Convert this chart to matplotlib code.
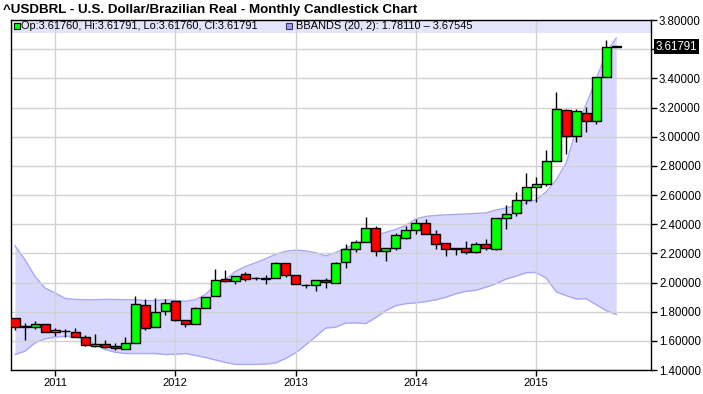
import matplotlib.pyplot as plt
import matplotlib.transforms as mtransforms
from matplotlib.patches import Rectangle
import numpy as np

plt.rcParams['font.family'] = ['Liberation Sans', 'DejaVu Sans']

# monthly candles, Sep 2010 .. Sep 2015
months = ['2010-09', '2010-10', '2010-11', '2010-12',
          '2011-01', '2011-02', '2011-03', '2011-04', '2011-05', '2011-06',
          '2011-07', '2011-08', '2011-09', '2011-10', '2011-11', '2011-12',
          '2012-01', '2012-02', '2012-03', '2012-04', '2012-05', '2012-06',
          '2012-07', '2012-08', '2012-09', '2012-10', '2012-11', '2012-12',
          '2013-01', '2013-02', '2013-03', '2013-04', '2013-05', '2013-06',
          '2013-07', '2013-08', '2013-09', '2013-10', '2013-11', '2013-12',
          '2014-01', '2014-02', '2014-03', '2014-04', '2014-05', '2014-06',
          '2014-07', '2014-08', '2014-09', '2014-10', '2014-11', '2014-12',
          '2015-01', '2015-02', '2015-03', '2015-04', '2015-05', '2015-06',
          '2015-07', '2015-08', '2015-09']

opens = [1.754, 1.698, 1.698, 1.716,
         1.662, 1.668, 1.662, 1.628, 1.567, 1.578,
         1.567, 1.546, 1.587, 1.847, 1.698, 1.803,
         1.876, 1.745, 1.716, 1.826, 1.907, 2.025,
         2.009, 2.059, 2.029, 2.027, 2.029, 2.134,
         2.053, 1.983, 1.980, 2.020, 1.998, 2.143,
         2.230, 2.277, 2.377, 2.218, 2.236, 2.305,
         2.359, 2.407, 2.332, 2.273, 2.232, 2.234,
         2.211, 2.264, 2.230, 2.441, 2.475, 2.566,
         2.654, 2.673, 2.832, 3.182, 3.008, 3.162,
         3.105, 3.410, 3.6176]
highs = [1.757, 1.722, 1.734, 1.718,
         1.689, 1.678, 1.686, 1.637, 1.644, 1.605,
         1.587, 1.628, 1.910, 1.890, 1.895, 1.888,
         1.883, 1.745, 1.833, 1.900, 2.095, 2.089,
         2.046, 2.075, 2.036, 2.049, 2.143, 2.134,
         2.053, 1.993, 2.018, 2.029, 2.143, 2.266,
         2.291, 2.450, 2.385, 2.234, 2.341, 2.389,
         2.438, 2.434, 2.360, 2.273, 2.240, 2.286,
         2.275, 2.300, 2.445, 2.532, 2.618, 2.748,
         2.723, 2.907, 3.303, 3.190, 3.190, 3.203,
         3.410, 3.665, 3.61791]
lows = [1.672, 1.605, 1.678, 1.660,
        1.632, 1.628, 1.626, 1.564, 1.560, 1.553,
        1.537, 1.546, 1.587, 1.673, 1.698, 1.775,
        1.734, 1.693, 1.716, 1.822, 1.907, 2.005,
        1.988, 2.010, 2.020, 1.993, 2.029, 2.039,
        1.991, 1.964, 1.941, 1.964, 1.998, 2.097,
        2.207, 2.277, 2.182, 2.145, 2.224, 2.300,
        2.332, 2.332, 2.232, 2.180, 2.190, 2.198,
        2.200, 2.225, 2.222, 2.368, 2.459, 2.541,
        2.550, 2.663, 2.832, 2.882, 2.964, 3.035,
        3.090, 3.410, 3.6176]
closes = [1.698, 1.699, 1.716, 1.662,
          1.675, 1.666, 1.628, 1.573, 1.580, 1.560,
          1.553, 1.587, 1.854, 1.689, 1.799, 1.861,
          1.745, 1.716, 1.826, 1.900, 2.018, 2.012,
          2.046, 2.027, 2.030, 2.028, 2.134, 2.053,
          1.991, 1.982, 2.018, 2.002, 2.134, 2.230,
          2.277, 2.377, 2.218, 2.234, 2.329, 2.359,
          2.407, 2.332, 2.264, 2.230, 2.234, 2.211,
          2.264, 2.236, 2.441, 2.470, 2.564, 2.654,
          2.673, 2.836, 3.187, 3.008, 3.173, 3.105,
          3.408, 3.618, 3.61791]

# Bollinger bands (20, 2)
bb_upper = [2.252, 2.156, 2.042, 1.962,
            1.928, 1.891, 1.884, 1.882, 1.882, 1.884,
            1.884, 1.882, 1.882, 1.876, 1.876, 1.882,
            1.878, 1.871, 1.882, 1.917, 1.985, 2.019,
            2.076, 2.110, 2.135, 2.163, 2.193, 2.214,
            2.222, 2.217, 2.204, 2.183, 2.204, 2.235,
            2.265, 2.296, 2.323, 2.344, 2.364, 2.392,
            2.436, 2.453, 2.460, 2.464, 2.467, 2.470,
            2.474, 2.477, 2.498, 2.511, 2.529, 2.549,
            2.566, 2.621, 2.703, 2.819, 3.045, 3.223,
            3.393, 3.578, 3.67545]
bb_lower = [1.506, 1.529, 1.586, 1.614,
            1.625, 1.631, 1.627, 1.609, 1.575, 1.540,
            1.522, 1.513, 1.513, 1.513, 1.513, 1.506,
            1.508, 1.513, 1.500, 1.486, 1.469, 1.452,
            1.438, 1.438, 1.438, 1.441, 1.448, 1.479,
            1.518, 1.571, 1.629, 1.688, 1.693, 1.722,
            1.723, 1.718, 1.759, 1.807, 1.841, 1.855,
            1.860, 1.869, 1.882, 1.899, 1.923, 1.939,
            1.947, 1.968, 1.992, 2.024, 2.043, 2.067,
            2.069, 2.031, 1.937, 1.910, 1.887, 1.889,
            1.848, 1.807, 1.78110]

year_labels = ['2011', '2012', '2013', '2014', '2015']
y_ticks = [1.4, 1.6, 1.8, 2.0, 2.2, 2.4, 2.6, 2.8, 3.0, 3.2, 3.4, 3.6, 3.8]

UP = '#00ff00'
DOWN = '#ff0000'

fig = plt.figure(figsize=(7.03, 3.94), dpi=100)
ax = fig.add_axes([0.01522, 0.0609, 0.9104, 0.8883])

x = np.arange(len(months))
o = np.array(opens)
h = np.array(highs)
l = np.array(lows)
c = np.array(closes)

# band
ax.fill_between(x, bb_lower, bb_upper, color='#d8d8ff', lw=0, zorder=0.2)
ax.plot(x, bb_upper, color='#a8a8f4', lw=1, zorder=0.3)
ax.plot(x, bb_lower, color='#a8a8f4', lw=1, zorder=0.3)

# candles
ax.vlines(x, l, h, color='black', lw=1, zorder=2)
colors = [UP if cc >= oo else DOWN for oo, cc in zip(o, c)]
bottoms = np.minimum(o, c)
heights = np.maximum(np.abs(c - o), 0.0008)
ax.bar(x, heights, width=0.9, bottom=bottoms, color=colors,
       edgecolor='black', linewidth=1, zorder=3)

ax.set_xlim(-0.43, 63.44)
ax.set_ylim(1.4, 3.8)

year_pos = [months.index(y + '-01') for y in year_labels]
ax.set_xticks(year_pos)
ax.set_xticklabels(year_labels)
ax.yaxis.tick_right()
ax.set_yticks(y_ticks)
ylabels = ['%.5f' % v for v in y_ticks]
ylabels[y_ticks.index(3.6)] = ''
ax.set_yticklabels(ylabels)
ax.tick_params(axis='x', length=4, width=1, labelsize=8, pad=2)
ax.tick_params(axis='y', length=4, width=1, labelsize=8.3, pad=2)

ax.set_axisbelow(True)
ax.grid(True, color='#d2d2d2', lw=1)
for s in ax.spines.values():
    s.set_color('black')
    s.set_linewidth(1)

# legend strip at the top
ax.add_patch(Rectangle((0, 0.963), 1, 0.037, transform=ax.transAxes,
                       facecolor='#e4e4fa', edgecolor='none', zorder=0.4))
ax.plot([0.0105], [0.9815], marker='s', ms=5, mfc=UP, mec='black', mew=0.8,
        transform=ax.transAxes, zorder=5, clip_on=False)
ax.text(0.0165, 0.9815, 'Op:3.61760, Hi:3.61791, Lo:3.61760, Cl:3.61791',
        transform=ax.transAxes, fontsize=7.9, va='center', ha='left', zorder=5)
ax.plot([0.4356], [0.9815], marker='s', ms=5, mfc='#a0a0f0', mec='#333366', mew=0.8,
        transform=ax.transAxes, zorder=5, clip_on=False)
ax.text(0.4458, 0.9815, 'BBANDS (20, 2): 1.78110 \u2013 3.67545',
        transform=ax.transAxes, fontsize=7.9, va='center', ha='left', zorder=5)

# last price tag
trans = mtransforms.blended_transform_factory(ax.transAxes, ax.transData)
ax.text(1.0075, closes[-1], '%.5f' % closes[-1], transform=trans, fontsize=8.3,
        color='white', va='center', ha='left', zorder=6,
        bbox=dict(facecolor='black', edgecolor='none', pad=1.2))

fig.text(0.004, 0.975, '^USDBRL - U.S. Dollar/Brazilian Real - Monthly Candlestick Chart',
         fontsize=9.6, fontweight='bold', va='center', ha='left')

fig.savefig('out.png', dpi=100)
